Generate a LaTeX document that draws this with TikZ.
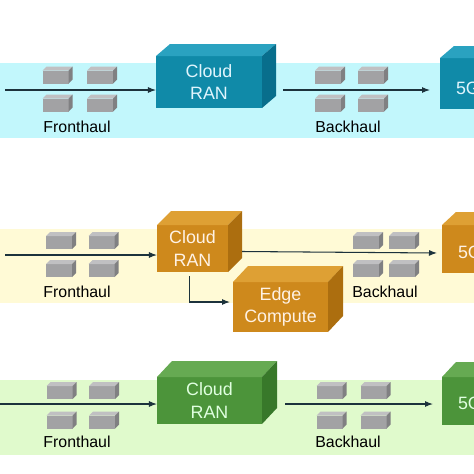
\documentclass[tikz,border=0pt]{standalone}
\usepackage{fontspec}
\setmainfont{Liberation Sans}
\usetikzlibrary{arrows.meta,calc}
\definecolor{cyanband}{RGB}{194,247,252}
\definecolor{yellowband}{RGB}{255,250,214}
\definecolor{greenband}{RGB}{224,250,204}
\definecolor{tealfront}{RGB}{16,138,168}
\definecolor{tealtop}{RGB}{42,162,192}
\definecolor{tealside}{RGB}{8,110,140}
\definecolor{orangefront}{RGB}{206,137,28}
\definecolor{orangetop}{RGB}{222,160,52}
\definecolor{orangeside}{RGB}{172,110,15}
\definecolor{greenfront}{RGB}{76,148,58}
\definecolor{greentop}{RGB}{102,170,82}
\definecolor{greenside}{RGB}{56,120,42}
\definecolor{blkfront}{RGB}{162,162,164}
\definecolor{blktop}{RGB}{192,192,194}
\definecolor{blkside}{RGB}{128,128,130}
\definecolor{linecol}{RGB}{28,50,60}
\newdimen\pix \pix=0.025cm
\newcommand{\boxfaces}[5]{%
  \fill[#4] (#1.north west) -- ++(#2,-#3) -- ($(#1.north east)+(#2,-#3)$) -- (#1.north east) -- cycle;
  \fill[#5] (#1.north east) -- ++(#2,-#3) -- ($(#1.south east)+(#2,-#3)$) -- (#1.south east) -- cycle;
}

\begin{document}
\begin{tikzpicture}[
    x=0.025cm, y=-0.025cm,
    >={Latex[length=2mm,width=1.5mm]},
    blk/.style={rectangle, inner sep=0pt, outer sep=0pt, fill=blkfront, minimum width=26\pix, minimum height=13\pix},
    unit/.style={rectangle, inner sep=0pt, outer sep=0pt, align=center, font=\fontsize{12.7}{16}\selectfont},
    label/.style={font=\fontsize{11.3}{13}\selectfont, text=black},
    arrow/.style={->, draw=linecol, line width=0.75pt},
]
\useasboundingbox (0,0) rectangle (474,474);
\clip (0,0) rectangle (474,474);

\fill[cyanband] (0,63) rectangle (474,138);
\fill[yellowband] (0,229) rectangle (474,303);
\fill[greenband] (0,380) rectangle (474,455);

\foreach \x/\y [count=\i] in {55.5/77,100/77,55.5/105,100/105} {
    \node[blk] (fhA\i) at (\x,\y) {};
    \boxfaces{fhA\i}{4}{4}{blktop}{blkside}
}
\foreach \x/\y [count=\i] in {328/77,371/77,328/105,371/105} {
    \node[blk] (bhA\i) at (\x,\y) {};
    \boxfaces{bhA\i}{4}{4}{blktop}{blkside}
}
\node[unit, fill=tealfront, text=white!88!cyan, minimum width=106\pix, minimum height=52\pix] (ranA) at (209,82) {Cloud\\RAN};
\boxfaces{ranA}{14}{12}{tealtop}{tealside}
\node[unit, fill=tealfront, minimum width=100\pix, minimum height=51\pix, anchor=north west] (coreA) at (440,58) {};
\boxfaces{coreA}{14}{12}{tealtop}{tealside}
\node[unit, text=white!88!cyan, anchor=west] (coreAtxt) at (456,88) {5G Core};
\coordinate (inA) at (5,90);
\draw[arrow] (inA) -- (inA -| ranA.west);
\draw[arrow, shorten <=21\pix, shorten >=10\pix] (inA -| ranA.east) -- (inA -| coreA.west);
\node[label] (fhAlbl) at (77,127) {Fronthaul};
\node[label] (bhAlbl) at (348,127) {Backhaul};

\foreach \x/\y [count=\i] in {59/242.5,101.5/242.5,59/270.5,101.5/270.5} {
    \node[blk] (fhB\i) at (\x,\y) {};
    \boxfaces{fhB\i}{4}{4}{blktop}{blkside}
}
\foreach \x/\y [count=\i] in {366/242.5,402/242.5,366/270.5,402/270.5} {
    \node[blk] (bhB\i) at (\x,\y) {};
    \boxfaces{bhB\i}{4}{4}{blktop}{blkside}
}
\node[unit, fill=orangefront, text=white!90!orange, minimum width=71\pix, minimum height=47\pix] (ranB) at (192.5,248.5) {Cloud\\RAN};
\boxfaces{ranB}{14}{14}{orangetop}{orangeside}
\node[unit, fill=orangefront, text=white!90!orange, minimum width=95\pix, minimum height=50\pix] (edgeB) at (280.5,307) {Edge\\Compute};
\boxfaces{edgeB}{15}{16}{orangetop}{orangeside}
\node[unit, fill=orangefront, minimum width=100\pix, minimum height=48\pix, anchor=north west] (coreB) at (442,225) {};
\boxfaces{coreB}{14}{13}{orangetop}{orangeside}
\node[unit, text=white!90!orange, anchor=west] (coreBtxt) at (458,252) {5G Core};
\coordinate (inB) at (5,255);
\draw[arrow] (inB) -- (inB -| ranB.west);
\draw[arrow] ($(ranB.east)+(14,3)$) -- ($(coreB.west)+(-5,4)$);
\draw[arrow, shorten >=3\pix] ($(ranB.south)+(-3,4)$) |- ($(edgeB.west)+(0,-5)$);
\node[label] (fhBlbl) at (77,292) {Fronthaul};
\node[label] (bhBlbl) at (385,292) {Backhaul};

\foreach \x/\y [count=\i] in {59.5/392.5,102/392.5,59.5/422,102/422} {
    \node[blk] (fhC\i) at (\x,\y) {};
    \boxfaces{fhC\i}{4}{4}{blktop}{blkside}
}
\foreach \x/\y [count=\i] in {329.5/392.5,373.5/392.5,329.5/422,373.5/422} {
    \node[blk] (bhC\i) at (\x,\y) {};
    \boxfaces{bhC\i}{4}{4}{blktop}{blkside}
}
\node[unit, fill=greenfront, text=white!88!green, minimum width=105\pix, minimum height=47\pix] (ranC) at (209.5,400.5) {Cloud\\RAN};
\boxfaces{ranC}{15}{16}{greentop}{greenside}
\node[unit, fill=greenfront, minimum width=100\pix, minimum height=48\pix, anchor=north west] (coreC) at (442,377) {};
\boxfaces{coreC}{14}{15}{greentop}{greenside}
\node[unit, text=white!88!green, anchor=west] (coreCtxt) at (458,403) {5G Core};
\coordinate (inC) at (0,404);
\draw[arrow] (inC) -- (inC -| ranC.west);
\draw[arrow, shorten <=23\pix, shorten >=9\pix] (inC -| ranC.east) -- (inC -| coreC.west);
\node[label] (fhClbl) at (77,442) {Fronthaul};
\node[label] (bhClbl) at (348,442) {Backhaul};
\end{tikzpicture}
\end{document}
